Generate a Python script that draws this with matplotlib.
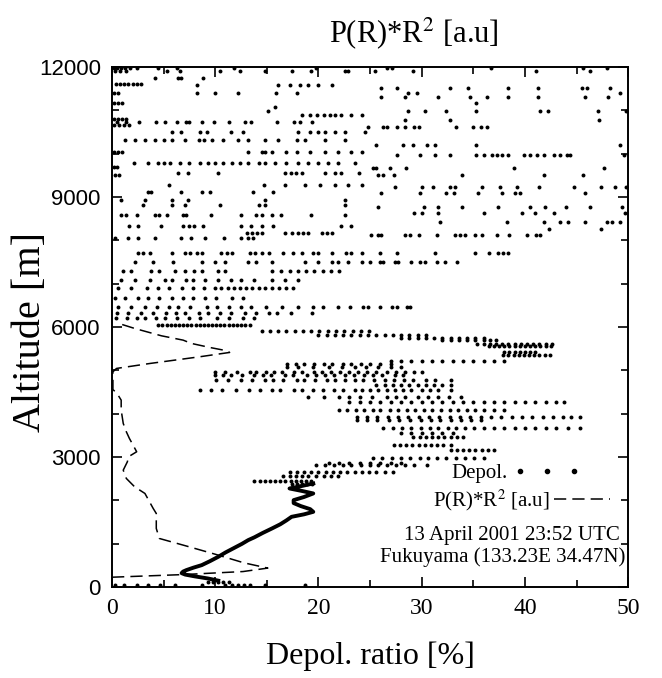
import numpy as np
import matplotlib
matplotlib.use("Agg")
import matplotlib.pyplot as plt
from matplotlib.lines import Line2D
from matplotlib.ticker import MultipleLocator

plt.rcParams["mathtext.fontset"] = "stix"

# depolarization ratio [%] - scattered part, read row by row (altitude [m], values)
row_alt = [11980, 11900, 11760, 11620, 11586, 11510, 11394, 11300, 11163, 11086,
           10990, 10894, 10780, 10800, 10740, 10624, 10660, 10509, 10316, 10201,
           10047, 9971, 9778, 9700, 9663, 9547, 9509, 9278, 9240, 9124,
           9086, 8932, 8816, 8778, 8624, 8586, 8432, 8332, 8255, 8163,
           8124, 8047, 7701, 7509, 7301, 7086, 6893, 6663, 6470, 6316,
           6201, 6047, 5900, 5830, 5760, 5700, 5620, 5560, 5420, 5354,
           5230, 5150, 5085, 4970, 4893, 4777, 4670, 4547, 4393, 4277,
           4085, 3931, 3854, 3662, 3547, 3470, 3277, 3162, 2970, 2855,
           2816, 2662, 2570, 2440, 2390, 130, 60]
row_x = [
    [0.2, 0.5, 0.9, 1.3, 1.8, 2.4, 4.5, 6.3, 11.8, 19.8, 26.6, 27.1, 36.7, 45.6, 47.9],
    [0.3, 0.8, 1.4, 5.3, 6.6, 10.5, 12.4, 14.8, 17.4, 19.3, 22.6, 22.9, 25.5, 29.2, 41.1, 46.3],
    [4.2, 6.4, 6.7, 8.8],
    [0.4, 0.8, 1.2, 1.6, 2.0, 2.4, 2.8],
    [8.2, 16.1, 17.2, 18.2, 19.0, 20.0, 21.3],
    [26.1, 27.6, 32.7, 34.5, 38.4, 41.3, 45.5, 46.0, 48.2],
    [0.2, 0.6, 8.2, 10.0, 12.2, 15.9, 17.9, 28.7, 29.5, 49.2],
    [26.1, 28.4, 31.6, 34.7, 36.3, 38.4, 41.3, 45.8, 48.0],
    [0.2, 0.6, 1.0, 35.3],
    [15.8],
    [15.1, 28.7, 30.3, 32.4, 35.3, 41.5, 42.2, 47.1, 49.8],
    [18.4, 19.2, 19.9, 20.5, 21.1, 21.6, 22.2, 23.2, 24.2],
    [28.4, 32.7, 47.2],
    [0.2, 0.6, 1.0, 1.4],
    [0.5, 1.4, 2.6, 4.3, 5.1, 6.3, 7.2, 7.5, 8.7, 9.9, 11.3, 12.9, 13.5, 16.0, 17.6, 18.2, 19.4],
    [24.8, 26.3, 26.6, 27.6, 28.4, 29.3, 29.7, 33.3, 35.0, 35.7, 36.3],
    [0.2, 0.7, 1.2, 1.7],
    [5.8, 6.7, 8.5, 9.2, 11.5, 12.7, 18.0, 19.2, 20.0, 20.6, 21.6, 22.6, 24.5],
    [1.3, 2.2, 3.2, 4.2, 5.0, 5.8, 7.1, 8.4, 8.9, 9.7, 10.8, 12.2, 13.2, 14.8, 16.1, 17.9, 18.7, 20.6, 22.6],
    [25.6, 28.2, 29.2, 30.5, 31.3, 35.3, 49.2],
    [0.2, 0.6, 1.0, 13.2, 14.5, 14.8, 15.5, 16.9, 17.9, 19.2, 20.6, 21.9, 23.2, 24.2],
    [27.6, 29.8, 31.3, 32.7, 35.3, 36.0, 36.8, 37.3, 37.8, 38.4, 39.9, 40.5, 41.2, 41.8, 42.8, 43.4, 44.1, 44.4, 49.6],
    [2.1, 3.5, 4.5, 5.0, 5.6, 6.6, 7.5, 8.5, 9.3, 10.0, 10.8, 11.6, 12.4, 13.2, 14.2, 14.8, 15.8, 16.9, 18.0, 19.0, 20.0, 20.9, 21.9, 23.5],
    [0.2, 0.5],
    [25.3, 25.6, 26.9, 28.5, 38.9, 47.7],
    [6.4, 7.4, 10.3, 16.8, 17.3, 17.8, 18.4, 20.6, 21.6, 22.2, 23.9],
    [0.3, 0.7, 25.8, 26.3, 27.3, 33.9, 41.8, 45.6],
    [5.5, 14.7, 16.8, 18.7, 20.2, 21.6, 22.9, 24.2],
    [27.4, 30.0, 31.1, 32.7, 33.2, 35.8, 37.6, 39.2, 41.4, 44.7, 47.4, 48.7, 49.8],
    [3.5, 3.8, 6.7, 8.7, 9.5, 13.7, 15.6],
    [26.1, 29.8, 32.4, 33.1, 35.5, 37.8, 39.0, 39.5, 45.8],
    [0.9, 3.2, 5.8, 7.4, 14.8, 22.6],
    [3.0, 5.8, 7.1, 10.5, 14.2, 14.8, 22.6],
    [25.8, 30.2, 31.6, 33.9, 37.4, 40.5, 41.9, 44.0, 46.3, 49.4],
    [29.3, 30.0, 31.6, 36.0, 39.7, 41.0, 42.8, 49.7],
    [0.9, 1.4, 2.4, 4.2, 4.6, 5.3, 6.9, 7.2, 9.6, 12.5, 14.0, 14.5, 15.5, 16.4, 19.3, 22.6],
    [31.8, 38.3, 41.8, 43.4, 44.2, 45.8, 47.9, 48.4, 49.2],
    [1.7, 2.5, 4.8, 6.9, 7.5, 8.0, 8.8, 12.5, 13.5, 14.5, 15.6, 22.2, 23.2],
    [42.3, 47.4],
    [13.1, 13.6, 14.1, 14.5, 16.8, 17.4, 18.0, 18.5, 19.0, 20.3, 20.8, 21.3],
    [25.1, 25.8, 26.1, 28.4, 28.9, 29.7, 31.5, 33.2, 33.7, 34.2, 35.2, 35.8, 37.3, 38.5, 40.2, 41.1, 41.5],
    [0.3, 1.6, 2.5, 4.2, 6.7, 7.7, 9.0, 10.9, 12.5, 13.2, 13.7],
    [2.5, 3.0, 3.7, 5.8, 7.1, 7.6, 8.2, 8.7, 10.6, 11.1, 11.6, 13.4, 13.9, 14.5, 15.2, 16.6, 17.5, 18.4, 19.5,
     20.0, 21.3, 22.7, 23.2, 24.2, 26.0, 27.6, 31.3, 35.2, 36.5, 37.4, 37.9, 38.4],
    [2.2, 4.0, 5.9, 8.7, 10.0, 11.0, 13.2, 14.0, 15.5, 18.7, 20.0, 21.3, 21.9, 22.9, 24.2, 25.0, 26.0, 26.3,
     27.4, 27.7, 29.0, 29.8, 30.3, 31.5, 32.3, 33.4],
    [1.1, 1.9, 3.8, 4.6, 6.1, 7.1, 8.0, 8.7, 10.3, 11.0, 15.5, 16.4, 17.2, 18.0, 18.8, 19.6, 20.4, 21.2, 22.0],
    [0.9, 2.2, 3.7, 5.1, 5.8, 7.2, 7.9, 9.0, 10.3, 11.5, 12.5, 13.8, 15.5, 16.8, 18.0],
    [0.6, 1.9, 3.4, 4.5, 5.5, 6.8, 7.9, 8.9, 10.0, 10.6, 11.2, 11.8, 12.4, 13.0, 13.6, 14.2, 14.8, 15.5, 16.2, 16.9, 17.5],
    [0.3, 1.3, 2.5, 3.5, 4.6, 5.8, 6.9, 7.9, 9.0, 10.1, 11.6, 12.7],
    [0.6, 1.9, 3.2, 4.4, 5.5, 6.4, 7.6, 9.2, 10.2, 11.3, 12.5, 13.5, 14.9, 16.5, 18.0, 19.5, 20.4, 21.9, 23.1,
     24.3, 24.8, 26.0, 27.1, 27.6, 28.6, 28.9],
    [0.5, 1.6, 2.8, 4.0, 5.2, 6.2, 7.1, 8.4, 9.3, 10.5, 11.5, 12.9, 14.0, 15.2, 16.0, 17.3, 19.4],
    [0.4, 1.5, 2.4, 3.2, 4.3, 5.1, 6.3, 7.5, 8.5, 10.2, 11.3, 12.7, 13.8],
    [4.5, 4.9, 5.3, 5.7, 6.1, 6.5, 6.9, 7.3, 7.7, 8.1, 8.5, 8.9, 9.3, 9.7, 10.1, 10.5, 10.9, 11.3, 11.7, 12.1, 12.5, 12.9, 13.4],
    [14.5, 15.3, 16.1, 16.9, 17.7, 18.5, 19.3, 20.1, 20.9, 21.7, 22.5, 23.3, 24.1, 24.9],
    [20.0, 20.8, 21.6, 22.4, 23.2, 24.0, 24.8, 25.6, 26.4, 27.2, 28.0, 28.8, 29.6, 30.4],
    [28.0, 28.8, 29.6, 30.4, 31.2, 32.0, 32.8, 33.6, 34.4, 35.2, 36.0],
    [32.0, 32.8, 33.6, 34.4, 35.2, 36.0, 36.6, 37.2],
    [35.4, 36.0, 36.6, 37.2, 37.8, 38.4, 39.0, 39.6, 40.2, 40.8, 41.4, 42.0, 42.6],
    [36.5, 37.0, 37.5, 38.0, 38.5, 39.0, 39.5, 40.0, 40.5, 41.0, 41.5, 42.0, 42.5],
    [38.0, 38.5, 39.0, 39.5, 40.0, 40.5, 41.0],
    [37.9, 38.4, 38.9, 39.4, 39.9, 40.4, 40.9, 41.4, 41.9, 42.4],
    [27.0, 28.0, 29.0, 30.0, 31.0, 32.0, 33.0, 34.0, 35.0, 36.0, 37.0, 38.0],
    [17.0, 17.8, 18.6, 19.6, 20.5, 21.3, 22.4, 23.2, 24.1, 25.0, 26.0, 27.0],
    [17.0, 18.0, 19.5, 21.0, 22.3, 23.5, 24.6, 25.8, 27.0, 28.0],
    [10.0, 11.0, 12.1, 13.4, 14.0, 14.9, 15.7, 16.5, 17.6, 18.4, 19.6, 20.3, 21.2, 22.1, 23.0, 23.8, 24.7, 25.6,
     26.6, 27.5, 28.4, 29.3, 30.0],
    [10.0, 10.8, 11.5, 12.6, 13.8, 14.6, 15.4, 16.8, 17.5, 18.9, 19.8, 20.6, 21.5, 22.6, 23.4, 24.4, 25.3, 26.2, 27.4, 28.2],
    [10.1, 11.2, 12.5, 13.6, 14.8, 15.6, 16.6, 17.9, 18.6, 19.7, 20.8, 21.6, 22.6, 23.5, 24.3, 25.4, 26.4, 27.3,
     28.3, 29.2, 30.4, 31.3, 32.8],
    [25.6, 26.4, 27.2, 28.0, 28.8, 29.6, 30.4, 31.2, 32.0, 32.8],
    [8.5, 9.6, 10.7, 12.0, 13.3, 14.3, 15.5, 16.3, 17.6, 18.4, 19.5, 20.4, 21.5, 22.4, 23.5, 24.2, 25.0, 25.8,
     26.6, 27.4, 28.2, 29.0, 30.0, 30.8, 31.6, 32.8],
    [19.0, 20.5, 22.0, 23.0, 24.0, 25.2, 26.6, 27.5, 28.4, 29.6, 30.6, 31.6, 32.6, 33.8],
    [23.0, 24.0, 25.0, 26.0, 27.0, 28.0, 29.0, 30.0, 31.0, 32.0, 33.0, 34.0, 35.0, 36.0, 37.0, 38.0, 39.0, 40.0,
     41.0, 42.0, 43.0, 43.8],
    [22.0, 22.8, 23.6, 24.4, 25.3, 26.0, 26.9, 27.7, 28.6, 29.4, 30.2, 31.0, 31.9, 32.7, 33.5, 34.4, 35.2, 36.0, 37.0, 38.0],
    [23.7, 24.7, 25.7, 26.7, 27.7, 28.7, 29.7, 30.7, 31.7, 32.7, 33.7, 34.7, 35.7, 36.7, 37.7, 38.7, 39.7, 40.7,
     41.7, 42.7, 43.7, 44.5, 45.3],
    [23.7, 24.7, 25.7, 26.8, 27.8, 28.9, 29.9, 30.9, 31.8, 32.8, 33.8, 34.8, 35.7],
    [26.3, 27.2, 28.1, 29.0, 29.9, 30.8, 31.6, 32.5, 33.3, 34.2, 35.1, 36.0, 37.0, 38.0, 39.0, 40.0, 41.0, 42.0,
     43.0, 44.2, 45.3],
    [28.0, 29.0, 30.0, 31.0, 32.0, 33.0],
    [29.2, 29.8, 30.4, 31.0, 31.6, 32.2, 32.8, 33.4, 34.0],
    [27.3, 27.9, 28.5, 29.1, 29.7, 30.3, 30.9, 31.5, 32.1, 32.8],
    [32.8, 33.4, 34.0, 34.6, 35.2, 35.8, 36.4, 37.0],
    [25.3, 26.2, 27.1, 28.0, 28.9, 29.8, 30.6, 31.5, 32.4, 33.3, 34.2, 35.1, 36.0],
    [21.0, 22.0, 23.0, 24.0, 25.0, 26.0, 27.0, 28.0],
    [19.8, 20.6, 21.5, 22.4, 23.2, 24.1, 25.0, 25.8, 26.6, 27.5, 28.4, 29.3, 30.5],
    [17.2, 17.9, 18.6, 19.3, 20.0, 20.7, 21.4, 22.1, 22.8, 23.5, 24.2, 24.9, 25.6, 26.4, 27.2],
    [16.6, 17.2, 17.8, 18.4, 19.0, 19.8, 20.5, 21.2, 21.9],
    [13.8, 14.3, 14.8, 15.3, 15.8, 16.3, 16.8, 17.3, 17.8, 18.3, 18.8, 19.3],
    [17.4, 17.9, 18.4, 18.9, 19.4],
    [9.3, 9.8, 10.3, 10.8, 11.3],
    [0.3, 1.2, 2.4, 3.5, 4.7, 6.1, 8.7, 11.0, 11.6, 12.2, 12.8, 13.4, 14.8, 18.7],
]

# depolarization ratio [%] - dense low-level profile
curve_alt = [150, 200, 250, 290, 323, 360, 392, 450, 508, 600, 700, 800, 900, 1000, 1085, 1150,
             1250, 1354, 1450, 1540, 1623, 1680, 1738, 1800, 1870, 1940, 2008, 2080, 2162, 2220,
             2277, 2330, 2393]
curve_x = [10.3, 9.3, 8.0, 7.1, 6.75, 6.9, 7.2, 7.9, 8.7, 9.5, 10.3, 11.0, 11.8, 12.6, 13.2, 13.8,
           14.6, 15.5, 16.3, 16.9, 17.4, 18.6, 19.5, 19.2, 18.3, 17.6, 17.6, 18.6, 19.5, 18.4,
           17.2, 18.3, 19.5]

# range corrected signal P(R)*R^2 [a.u], drawn on the same scale
pr2_alt = [6060, 5970, 5800, 5700, 5624, 5530, 5470, 5416, 5316, 5162, 5047, 4970, 4560, 4470,
           4316, 4085, 3778, 3585, 3430, 3300, 3124, 3008, 2893, 2700, 2508, 2316, 2162, 1816,
           1700, 1354, 1123, 950, 760, 560, 440, 360, 290, 230]
pr2_x = [1.0, 2.2, 4.8, 6.9, 7.7, 9.5, 10.8, 11.4, 8.5, 3.7, 0.45, 0.1, 0.1, 0.5,
         0.9, 0.9, 1.1, 1.4, 1.7, 2.0, 2.4, 1.6, 1.5, 1.1, 1.4, 2.2, 3.2, 4.0,
         4.3, 4.3, 4.6, 7.2, 10.0, 12.8, 15.1, 12.7, 6.9, 0.1]

serif = "Liberation Serif"
sans = "Liberation Sans"

dep_x = np.concatenate([np.array(v) for v in row_x])
dep_alt = np.concatenate([np.full(len(v), a) for v, a in zip(row_x, row_alt)])

fig = plt.figure(figsize=(6.62, 6.78), dpi=100)
ax = fig.add_axes([0.169, 0.134, 0.78, 0.767])

ax.scatter(dep_x, dep_alt, s=8, c="k", marker="o", linewidths=0)
ax.plot(curve_x, curve_alt, color="k", lw=2.8)
ax.plot(pr2_x, pr2_alt, color="k", lw=1.1, dashes=(8, 4))

ax.set_xlim(0, 50)
ax.set_ylim(0, 12000)
ax.xaxis.set_major_locator(MultipleLocator(10))
ax.xaxis.set_minor_locator(MultipleLocator(5))
ax.yaxis.set_major_locator(MultipleLocator(3000))
ax.yaxis.set_minor_locator(MultipleLocator(1000))
ax.tick_params(which="both", direction="in", top=True, right=True, width=1.2)
ax.tick_params(which="major", length=7)
ax.tick_params(which="minor", length=5)
ax.tick_params(axis="x", which="major", pad=8)
ax.tick_params(axis="y", which="major", pad=8)
for s in ax.spines.values():
    s.set_linewidth(1.4)

for lab in ax.get_xticklabels():
    lab.set_fontfamily(serif)
    lab.set_fontsize(17)
for lab in ax.get_yticklabels():
    lab.set_fontfamily(sans)
    lab.set_fontsize(16)

ax.set_xlabel("Depol. ratio [%]", fontfamily=serif, fontsize=23, labelpad=16)
ax.set_ylabel("Altitude [m]", fontfamily=serif, fontsize=29, va="center")
ax.yaxis.set_label_coords(-0.157, 0.49)
fig.text(0.625, 0.951, r"P(R)*R$^{2}$ [a.u]", fontfamily=serif, fontsize=22,
         ha="center", va="center")

leg1 = ax.legend([Line2D([], [], ls="none", marker="o", ms=3, color="k")], ["Depol."],
                 numpoints=3, markerfirst=False, frameon=False, handlelength=3.2,
                 handletextpad=0.3, borderpad=0, borderaxespad=0,
                 loc="center right", bbox_to_anchor=(0.907, 0.219),
                 prop={"family": serif, "size": 15})
ax.add_artist(leg1)
ax.legend([Line2D([], [], color="k", lw=1.1, dashes=(8, 4))], [r"P(R)*R$^{2}$ [a.u]"],
          markerfirst=False, frameon=False, handlelength=2.7, handletextpad=0.2,
          borderpad=0, borderaxespad=0, loc="center right", bbox_to_anchor=(0.965, 0.167),
          prop={"family": serif, "size": 15})
ax.text(0.984, 0.100, "13 April 2001 23:52 UTC", transform=ax.transAxes, ha="right",
        va="center", fontfamily=serif, fontsize=15)
ax.text(0.994, 0.058, "Fukuyama (133.23E 34.47N)", transform=ax.transAxes, ha="right",
        va="center", fontfamily=serif, fontsize=15)

fig.savefig("out.png", dpi=100)
